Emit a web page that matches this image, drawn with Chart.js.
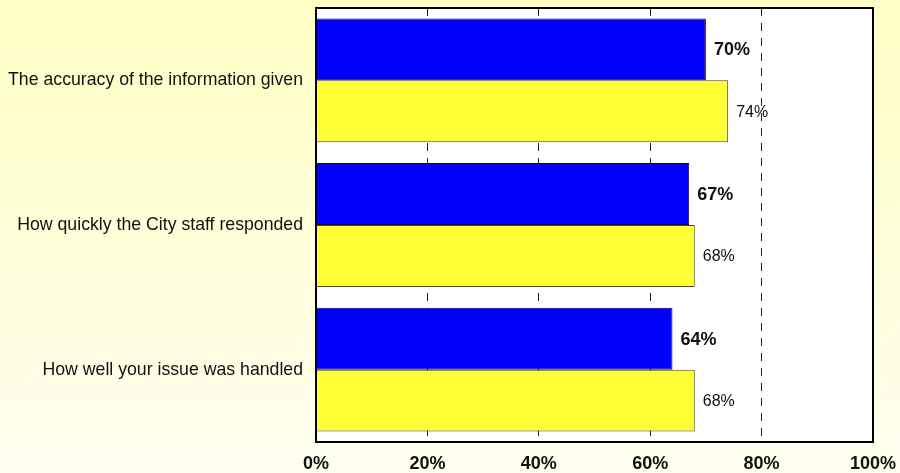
<!DOCTYPE html>
<html>
<head>
<meta charset="utf-8">
<title>Satisfaction with City staff</title>
<script src="https://cdn.jsdelivr.net/npm/chart.js@4.4.1/dist/chart.umd.min.js"></script>
<style>
    html, body { margin: 0; padding: 0; background: #fffff0; }
    #wrap { width: 900px; height: 473px; }
</style>
</head>
<body>
<div id="wrap"><canvas id="satisfactionChart" width="900" height="473"></canvas></div>
<script>
// categories and the two survey series (percent)
const categories = [
    'The accuracy of the information given',
    'How quickly the City staff responded',
    'How well your issue was handled'
];
const currentValues = [70, 67, 64];
const previousValues = [74, 68, 68];
const xTicks = [0, 20, 40, 60, 80, 100];

const FONT = '"Liberation Sans", Arial, sans-serif';

// page background + white plot area + frame + value labels
const framePlugin = {
    id: 'framePlugin',
    beforeDraw(chart) {
        const { ctx, chartArea: a, width, height } = chart;
        ctx.save();
        const g = ctx.createLinearGradient(0, 0, 0, height);
        g.addColorStop(0, '#ffffc4');
        g.addColorStop(1, '#fffff0');
        ctx.fillStyle = g;
        ctx.fillRect(0, 0, width, height);
        ctx.fillStyle = '#ffffff';
        ctx.fillRect(a.left, a.top, a.right - a.left, a.bottom - a.top);
        ctx.restore();
    },
    afterDatasetsDraw(chart) {
        const { ctx, chartArea: a } = chart;
        ctx.save();
        chart.data.datasets.forEach((ds, i) => {
            const meta = chart.getDatasetMeta(i);
            ctx.font = (i === 0 ? 'bold 18px ' : '16px ') + FONT;
            ctx.fillStyle = '#111';
            ctx.textAlign = 'left';
            ctx.textBaseline = 'middle';
            meta.data.forEach((bar, j) => {
                ctx.fillText(ds.data[j] + '%', bar.x + 8, bar.y + 1);
            });
        });
        ctx.strokeStyle = '#000';
        ctx.lineWidth = 2;
        ctx.strokeRect(a.left, a.top, a.right - a.left, a.bottom - a.top);
        ctx.restore();
    }
};

new Chart(document.getElementById('satisfactionChart'), {
    type: 'bar',
    data: {
        labels: categories,
        datasets: [
            {
                label: 'Current',
                data: currentValues,
                backgroundColor: '#0000ff',
                borderColor: '#111',
                borderWidth: 1
            },
            {
                label: 'Previous',
                data: previousValues,
                backgroundColor: '#ffff33',
                borderColor: '#444',
                borderWidth: 1
            }
        ]
    },
    options: {
        indexAxis: 'y',
        responsive: false,
        animation: false,
        layout: { padding: { top: 8, right: 27, bottom: 0, left: 0 } },
        datasets: { bar: { categoryPercentage: 0.856, barPercentage: 1.0 } },
        plugins: {
            legend: { display: false },
            tooltip: { enabled: false }
        },
        scales: {
            x: {
                min: 0,
                max: 100,
                afterBuildTicks(scale) {
                    scale.ticks = xTicks.map(v => ({ value: v }));
                },
                afterFit(scale) {
                    scale.height = 31;
                    scale.paddingLeft = 0;
                    scale.paddingRight = 0;
                },
                grid: { color: '#222', lineWidth: 1, drawTicks: false },
                border: { display: false, dash: [8, 7] },
                ticks: {
                    padding: 11,
                    color: '#111',
                    font: { family: FONT, size: 18, weight: 'bold' },
                    callback: v => v + '%'
                }
            },
            y: {
                afterFit(scale) {
                    scale.width = 316;
                    scale.paddingTop = 0;
                    scale.paddingBottom = 0;
                },
                grid: { display: false, drawTicks: false },
                border: { display: false },
                ticks: {
                    padding: 13,
                    color: '#111',
                    font: { family: FONT, size: 17.7 }
                }
            }
        }
    },
    plugins: [framePlugin]
});
</script>
</body>
</html>
